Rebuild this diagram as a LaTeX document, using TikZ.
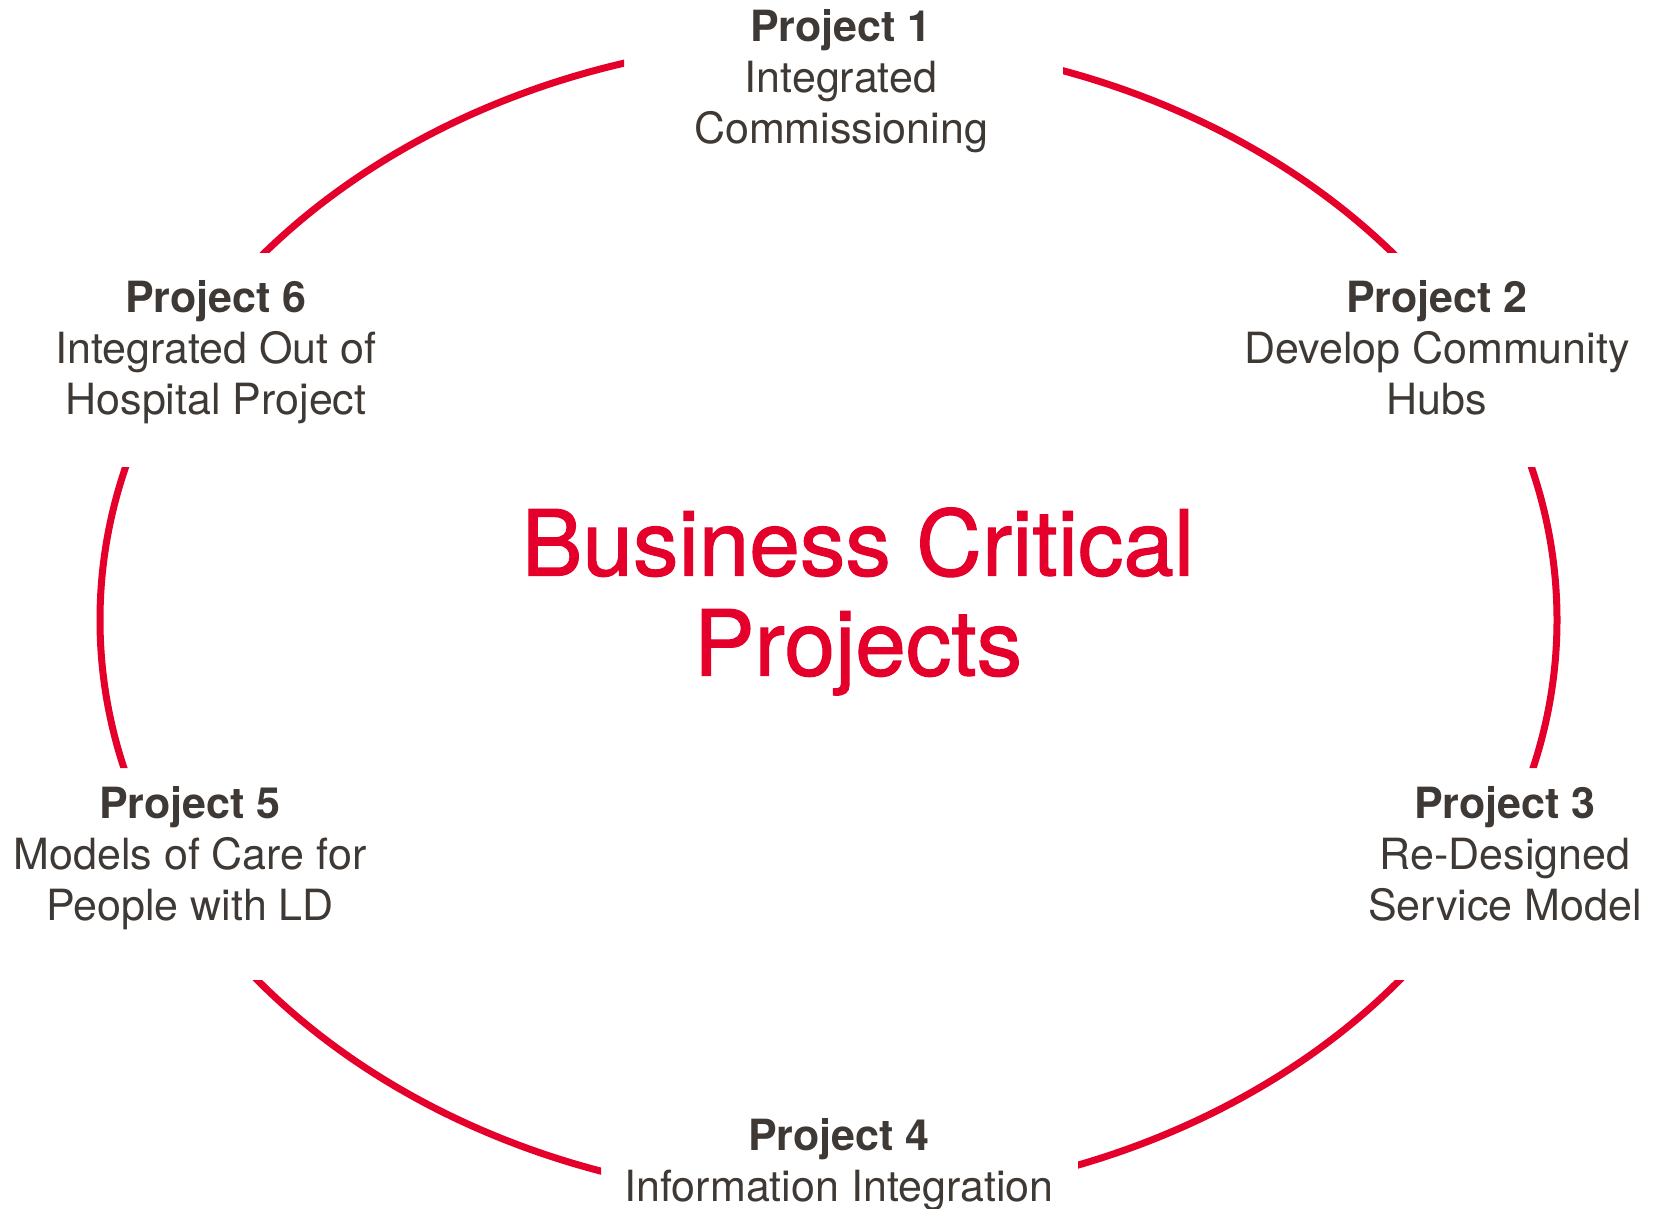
\documentclass[tikz,border=0pt]{standalone}
\usepackage{fontspec}
\setmainfont{TeX Gyre Heros}
\newfontfamily\titlefont[FakeBold=1.2]{TeX Gyre Heros}
\definecolor{ringred}{HTML}{E4002B}
\definecolor{labelgray}{HTML}{3F3935}
\begin{document}
\begin{tikzpicture}[x=1pt,y=-1pt,
  ring/.style={draw=ringred,line width=7pt},
  lbl/.style={inner sep=0pt,anchor=base,align=center,text=labelgray,font=\fontsize{43}{51}\selectfont},
  title/.style={inner sep=0pt,anchor=base,align=center,text=ringred,font=\titlefont\fontsize{91}{100}\selectfont}]
\useasboundingbox (0,0) rectangle (1655,1209);
\begin{scope}[even odd rule]
  \clip (0,0) rectangle (1655,1209)
    (624,0) rectangle (1063,200)
    (1150,253) rectangle (1655,467)
    (1150,768) rectangle (1655,980)
    (601,1000) rectangle (1078,1209)
    (0,768) rectangle (500,980)
    (0,253) rectangle (500,467);
  \draw[ring] (828.5,620) ellipse [x radius=728.5, y radius=580];
\end{scope}
% base anchor = baseline of the last line
\node[title] (center) at (858,675.5) {Business Critical\\Projects};
\node[lbl] (p1) at (841,144) {{\bfseries Project 1}\\Integrated\\Commissioning};
\node[lbl] (p2) at (1437,414) {{\bfseries Project 2}\\Develop Community\\Hubs};
\node[lbl] (p3) at (1505,920) {{\bfseries Project 3}\\Re-Designed\\Service Model};
\node[lbl] (p4) at (839,1201) {{\bfseries Project 4}\\Information Integration};
\node[lbl] (p5) at (190,920) {{\bfseries Project 5}\\Models of Care for\\People with LD};
\node[lbl] (p6) at (216,414) {{\bfseries Project 6}\\Integrated Out of\\Hospital Project};
\end{tikzpicture}
\end{document}
